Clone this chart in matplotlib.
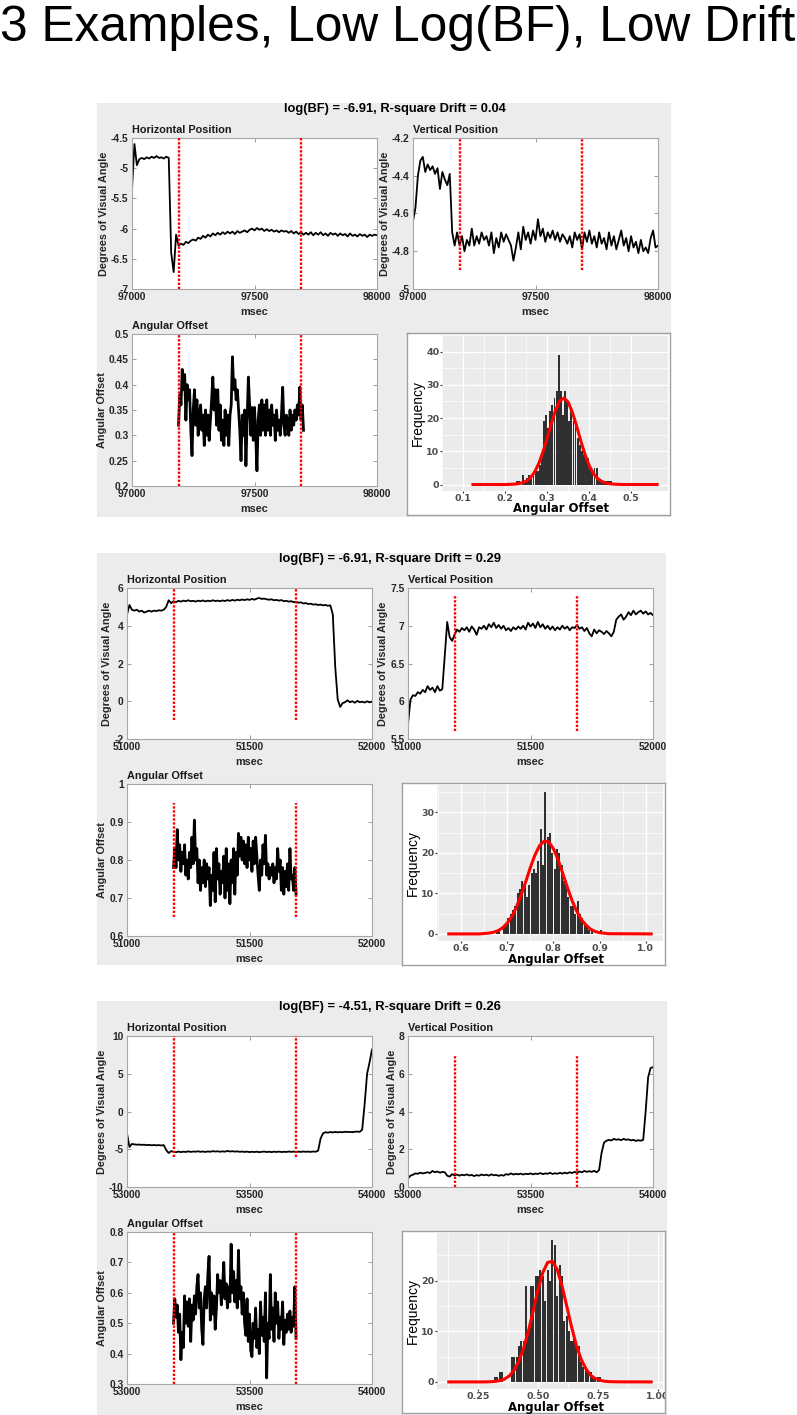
import numpy as np
import matplotlib
matplotlib.use('Agg')
import matplotlib.pyplot as plt
from matplotlib.patches import Rectangle
from matplotlib.ticker import FuncFormatter

W, H = 797, 1415

TITLE = '3 Examples, Low Log(BF), Low Drift'
BLOCK_TITLES = ['log(BF) = -6.91, R-square Drift = 0.04',
                'log(BF) = -6.91, R-square Drift = 0.29',
                'log(BF) = -4.51, R-square Drift = 0.26']

# window start (msec), position traces sampled every 10 ms
T0 = [97000, 51000, 53000]
POS_STEP = 10
# analysis window (red dotted markers); angular offset sampled every 5 ms inside it
MARKS = [[97190, 97690], [51190, 51690], [53190, 53690]]
ANG_STEP = 5

H_YLIM = [(-7, -4.5), (-2, 6), (-10, 10)]
H_YSTEP = [0.5, 2, 5]
V_YLIM = [(-5, -4.2), (5.5, 7.5), (0, 8)]
V_YSTEP = [0.2, 0.5, 2]
A_YLIM = [(0.2, 0.5), (0.6, 1.0), (0.3, 0.8)]
A_YSTEP = [0.05, 0.1, 0.1]
# vertical extent of the marker lines in each panel
H_MARK_Y = [(-7, -4.5), (-1, 6), (-6, 10)]
V_MARK_Y = [(-4.9, -4.2), (5.6, 7.4), (0, 7)]
A_MARK_Y = [(0.2, 0.5), (0.65, 0.95), (0.3, 0.8)]

# ---- example 1 ----
h1 = [-5.35, -4.6, -4.95, -4.85, -4.83, -4.85, -4.82, -4.84, -4.81, -4.83,
      -4.80, -4.83, -4.82, -4.84, -4.81, -4.83, -6.4, -6.72, -6.1, -6.28,
      -6.25, -6.27, -6.22, -6.24, -6.2, -6.18, -6.2, -6.15, -6.17, -6.12,
      -6.15, -6.1, -6.13, -6.08, -6.11, -6.07, -6.1, -6.06, -6.09, -6.05,
      -6.08, -6.05, -6.09, -6.04, -6.07, -6.05, -6.03, -6.06, -6.02, -6.0,
      -6.03, -5.99, -6.02, -6.0, -6.04, -6.01, -6.04, -6.02, -6.05, -6.03,
      -6.06, -6.03, -6.05, -6.04, -6.07, -6.04, -6.08, -6.05, -6.09, -6.06,
      -6.1, -6.07, -6.1, -6.06, -6.11, -6.07, -6.1, -6.06, -6.11, -6.08,
      -6.12, -6.07, -6.1, -6.08, -6.12, -6.08, -6.11, -6.09, -6.13, -6.08,
      -6.12, -6.1, -6.13, -6.09, -6.12, -6.1, -6.14, -6.1, -6.12, -6.1,
      -6.11]
v1 = [-4.64, -4.57, -4.40, -4.32, -4.30, -4.38, -4.34, -4.37, -4.35, -4.39,
      -4.36, -4.47, -4.38, -4.42, -4.45, -4.39, -4.70, -4.77, -4.70, -4.77,
      -4.72, -4.80, -4.74, -4.77, -4.68, -4.77, -4.72, -4.76, -4.70, -4.74,
      -4.72, -4.77, -4.70, -4.81, -4.73, -4.78, -4.70, -4.75, -4.71, -4.74,
      -4.77, -4.85, -4.78, -4.70, -4.79, -4.67, -4.74, -4.70, -4.76, -4.69,
      -4.74, -4.63, -4.72, -4.68, -4.75, -4.70, -4.73, -4.69, -4.74, -4.70,
      -4.75, -4.71, -4.73, -4.76, -4.72, -4.78, -4.70, -4.74, -4.71, -4.79,
      -4.70, -4.75, -4.69, -4.76, -4.72, -4.78, -4.70, -4.76, -4.73, -4.79,
      -4.70, -4.77, -4.72, -4.79, -4.74, -4.69, -4.77, -4.73, -4.80, -4.72,
      -4.78, -4.75, -4.81, -4.74, -4.80, -4.78, -4.81, -4.73, -4.69, -4.78,
      -4.77]
a1 = [0.32, 0.38, 0.36, 0.43, 0.39, 0.42, 0.33, 0.40, 0.37, 0.39,
      0.31, 0.26, 0.35, 0.39, 0.32, 0.37, 0.30, 0.34, 0.36, 0.31,
      0.34, 0.28, 0.35, 0.30, 0.34, 0.29, 0.33, 0.37, 0.415, 0.35,
      0.39, 0.32, 0.39, 0.31, 0.36, 0.29, 0.33, 0.28, 0.35, 0.30,
      0.34, 0.28, 0.34, 0.36, 0.455, 0.39, 0.41, 0.37, 0.39, 0.35,
      0.31, 0.25, 0.34, 0.30, 0.35, 0.24, 0.33, 0.415, 0.36, 0.30,
      0.355, 0.29, 0.355, 0.30, 0.23, 0.33, 0.36, 0.30, 0.37, 0.31,
      0.36, 0.30, 0.37, 0.31, 0.35, 0.30, 0.36, 0.32, 0.34, 0.29,
      0.35, 0.31, 0.33, 0.30, 0.34, 0.395, 0.32, 0.30, 0.34, 0.33,
      0.30, 0.35, 0.31, 0.34, 0.32, 0.35, 0.33, 0.36, 0.34, 0.395,
      0.33, 0.36, 0.31]
hist1_start, hist1_bin = 0.225, 0.005
hist1 = [1, 1, 0, 3, 1, 2, 3, 2, 4, 5,
         4, 6, 9, 19, 21, 17, 22, 24, 26, 28,
         39, 28, 21, 28, 25, 19, 23, 19, 20, 14,
         12, 10, 9, 8, 8, 5, 4, 5, 5, 1,
         1, 1, 1, 1, 1, 1]
fit1_x = [0.12, 0.2, 0.22, 0.23, 0.24, 0.25, 0.26, 0.27, 0.28, 0.29, 0.30, 0.31, 0.32,
          0.33, 0.34, 0.35, 0.36, 0.37, 0.38, 0.39, 0.40, 0.41, 0.42, 0.43, 0.44,
          0.45, 0.46, 0.48, 0.565]
fit1_y = [0, 0, 0.1, 0.2, 0.5, 1.0, 2.0, 3.7, 6.3, 9.8, 14.0, 18.4, 22.4,
          25.2, 26.0, 24.8, 21.7, 17.6, 13.1, 9.0, 5.7, 3.3, 1.8, 0.9, 0.4,
          0.2, 0.1, 0, 0]

# ---- example 2 ----
h2 = [4.6, 5.1, 4.85, 4.8, 4.85, 4.75, 4.8, 4.7, 4.75, 4.8,
      4.75, 4.8, 4.78, 4.82, 4.8, 4.85, 5.0, 5.35, 5.2, 5.3,
      5.25, 5.32, 5.28, 5.33, 5.3, 5.35, 5.3, 5.32, 5.28, 5.33,
      5.3, 5.34, 5.29, 5.33, 5.3, 5.35, 5.31, 5.33, 5.3, 5.34,
      5.31, 5.36, 5.32, 5.37, 5.33, 5.38, 5.35, 5.39, 5.36, 5.4,
      5.37, 5.42, 5.38, 5.44, 5.47, 5.42, 5.44, 5.4, 5.38, 5.4,
      5.35, 5.37, 5.33, 5.36, 5.3, 5.32, 5.28, 5.3, 5.25, 5.27,
      5.22, 5.24, 5.18, 5.2, 5.15, 5.17, 5.12, 5.14, 5.1, 5.12,
      5.08, 5.1, 5.06, 5.08, 4.6, 1.8, 0.1, -0.3, -0.1, -0.05,
      0.05, -0.05, 0.0, -0.08, 0.02, -0.05, -0.02, -0.07, 0.0, -0.06,
      -0.02]
v2 = [5.7, 6.02, 6.08, 6.07, 6.12, 6.1, 6.15, 6.12, 6.2, 6.15,
      6.18, 6.12, 6.2, 6.14, 6.16, 6.6, 7.05, 6.85, 6.8, 6.88,
      6.95, 6.92, 6.97, 6.94, 6.98, 6.92, 6.99, 6.95, 6.88, 6.98,
      6.96, 7.0, 6.95, 7.02, 6.98, 7.04, 6.97, 7.01, 6.96, 7.0,
      6.94, 6.97, 6.93, 6.98, 6.95, 6.99, 6.96, 7.0, 6.95, 7.04,
      6.99, 7.03, 6.97, 7.05, 6.98, 7.02, 6.96, 7.0, 6.95, 6.99,
      6.94, 6.98, 6.95, 7.0, 6.96, 6.99, 6.94, 6.98, 6.97, 7.01,
      6.96, 6.98, 6.93, 6.97, 6.9, 6.86, 6.95, 6.9, 6.94, 6.92,
      6.89, 6.93, 6.9, 6.86, 6.92, 7.08, 7.12, 7.15, 7.08, 7.12,
      7.18, 7.14, 7.2, 7.15, 7.18, 7.2, 7.16, 7.19, 7.15, 7.17,
      7.14]
a2 = [0.78, 0.83, 0.78, 0.88, 0.80, 0.84, 0.77, 0.82, 0.79, 0.84,
      0.76, 0.80, 0.75, 0.82, 0.78, 0.86, 0.79, 0.905, 0.80, 0.83,
      0.74, 0.80, 0.72, 0.78, 0.74, 0.80, 0.73, 0.79, 0.75, 0.78,
      0.68, 0.76, 0.72, 0.82, 0.69, 0.83, 0.75, 0.79, 0.71, 0.77,
      0.74, 0.81, 0.70, 0.83, 0.72, 0.79, 0.685, 0.80, 0.74, 0.83,
      0.71, 0.82, 0.76, 0.87, 0.81, 0.86, 0.80, 0.85, 0.79, 0.84,
      0.78, 0.86, 0.80, 0.83, 0.77, 0.85, 0.79, 0.86, 0.81, 0.76,
      0.72, 0.80, 0.76, 0.84, 0.79, 0.865, 0.76, 0.79, 0.75, 0.78,
      0.76, 0.79, 0.74, 0.78, 0.75, 0.83, 0.77, 0.80, 0.72, 0.78,
      0.71, 0.77, 0.73, 0.79, 0.72, 0.83, 0.75, 0.76, 0.72, 0.78,
      0.71]
hist2_start, hist2_bin = 0.675, 0.005
hist2 = [1, 1, 0, 2, 2, 4, 5, 6, 7, 10,
         11, 13, 13, 9, 12, 15, 16, 15, 18, 26,
         17, 35, 24, 25, 20, 16, 21, 20, 17, 13,
         12, 9, 7, 7, 5, 8, 5, 4, 3, 2,
         1, 1, 0, 0, 0, 1]
fit2_x = [0.57, 0.64, 0.66, 0.67, 0.68, 0.69, 0.70, 0.71, 0.72, 0.73, 0.74, 0.75, 0.76,
          0.77, 0.78, 0.79, 0.80, 0.81, 0.82, 0.83, 0.84, 0.85, 0.86, 0.87, 0.88,
          0.89, 0.90, 0.92, 1.015]
fit2_y = [0, 0, 0.2, 0.4, 0.8, 1.5, 2.7, 4.3, 6.7, 9.6, 12.9, 16.4, 19.5,
          21.8, 22.9, 22.7, 21.0, 18.3, 15.0, 11.5, 8.3, 5.7, 3.6, 2.2, 1.2,
          0.6, 0.3, 0.05, 0]

# ---- example 3 ----
h3 = [-2.9, -4.7, -4.3, -4.35, -4.4, -4.38, -4.42, -4.4, -4.45, -4.42,
      -4.47, -4.44, -4.48, -4.45, -4.5, -4.45, -5.1, -5.5, -5.25, -5.35,
      -5.4, -5.3, -5.38, -5.32, -5.36, -5.28, -5.35, -5.3, -5.33, -5.27,
      -5.34, -5.3, -5.36, -5.29, -5.33, -5.25, -5.3, -5.27, -5.33, -5.28,
      -5.32, -5.22, -5.3, -5.26, -5.31, -5.28, -5.34, -5.3, -5.36, -5.31,
      -5.38, -5.33, -5.37, -5.32, -5.39, -5.34, -5.3, -5.37, -5.33, -5.38,
      -5.32, -5.36, -5.31, -5.37, -5.33, -5.36, -5.3, -5.35, -5.31, -5.36,
      -5.32, -5.35, -5.3, -5.34, -5.31, -5.35, -5.3, -5.33, -5.2, -3.6,
      -2.9, -2.75, -2.8, -2.72, -2.78, -2.7, -2.76, -2.72, -2.75, -2.68,
      -2.72, -2.7, -2.74, -2.68, -2.66, -2.7, -2.4, 1.0, 5.0, 6.5,
      8.2]
v3 = [0.45, 0.6, 0.65, 0.72, 0.7, 0.76, 0.72, 0.75, 0.78, 0.74,
      0.85, 0.78, 0.82, 0.76, 0.8, 0.78, 0.6, 0.55, 0.68, 0.62,
      0.66, 0.6, 0.65, 0.62, 0.67, 0.61, 0.64, 0.58, 0.63, 0.6,
      0.66, 0.62, 0.65, 0.6, 0.67, 0.62, 0.64, 0.59, 0.63, 0.6,
      0.68, 0.65, 0.72, 0.66, 0.7, 0.67, 0.71, 0.66, 0.7, 0.68,
      0.72, 0.67, 0.71, 0.69, 0.74, 0.68, 0.72, 0.7, 0.75, 0.69,
      0.73, 0.7, 0.75, 0.71, 0.76, 0.72, 0.78, 0.74, 0.8, 0.76,
      0.82, 0.78, 0.85, 0.8, 0.84, 0.8, 0.86, 0.78, 0.9, 1.8,
      2.35, 2.45, 2.5, 2.46, 2.55, 2.5, 2.53, 2.48, 2.55, 2.5,
      2.52, 2.47, 2.5, 2.44, 2.48, 2.45, 2.5, 4.0, 5.8, 6.3,
      6.35]
a3 = [0.50, 0.58, 0.52, 0.56, 0.47, 0.53, 0.38, 0.47, 0.42, 0.59,
      0.50, 0.57, 0.49, 0.58, 0.44, 0.56, 0.51, 0.59, 0.53, 0.62,
      0.66, 0.55, 0.60, 0.48, 0.43, 0.58, 0.62, 0.55, 0.66, 0.72,
      0.51, 0.60, 0.53, 0.59, 0.48, 0.55, 0.66, 0.60, 0.64, 0.56,
      0.62, 0.70, 0.58, 0.63, 0.55, 0.62, 0.57, 0.76, 0.60, 0.67,
      0.57, 0.64, 0.55, 0.74, 0.58, 0.62, 0.53, 0.60, 0.50, 0.46,
      0.58, 0.44, 0.53, 0.41, 0.39, 0.50, 0.45, 0.55, 0.42, 0.48,
      0.40, 0.57, 0.46, 0.52, 0.44, 0.60, 0.32, 0.50, 0.45, 0.66,
      0.48, 0.55, 0.44, 0.60, 0.50, 0.57, 0.45, 0.52, 0.48, 0.57,
      0.43, 0.51, 0.47, 0.53, 0.48, 0.54, 0.47, 0.52, 0.49, 0.62,
      0.45]
hist3_start, hist3_bin = 0.315, 0.01
hist3 = [1, 1, 2, 2, 0, 0, 0, 5, 5, 5,
         7, 8, 8, 19, 10, 19, 19, 21, 21, 22,
         21, 16, 22, 20, 28, 27, 17, 23, 21, 12,
         13, 10, 8, 9, 7, 7, 4, 3, 3, 2,
         2, 1, 1, 1, 1]
fit3_x = [0.12, 0.28, 0.30, 0.32, 0.34, 0.36, 0.38, 0.40, 0.42, 0.44, 0.46, 0.48, 0.50,
          0.52, 0.54, 0.56, 0.58, 0.60, 0.62, 0.64, 0.66, 0.68, 0.70, 0.72, 0.74,
          0.76, 0.78, 0.80, 0.84, 0.98]
fit3_y = [0, 0, 0.04, 0.1, 0.25, 0.56, 1.2, 2.3, 4.1, 6.7, 10.1, 14.1, 18.2,
          21.6, 23.6, 23.8, 22.2, 19.0, 15.0, 10.9, 7.3, 4.5, 2.6, 1.3, 0.65,
          0.3, 0.12, 0.05, 0.01, 0]

HX_TICKS = [[0.1, 0.2, 0.3, 0.4, 0.5], [0.6, 0.7, 0.8, 0.9, 1.0], [0.25, 0.5, 0.75, 1.0]]
HX_FMT = ['%.1f', '%.1f', '%.2f']
HY_TICKS = [[0, 10, 20, 30, 40], [0, 10, 20, 30], [0, 10, 20]]

# ---- layout (pixels) ----
BLOCK_TOP = [103, 553, 1001]
BLOCK_BOTTOM = [517, 965, 1415]
BLOCK_RIGHT = [671, 666, 667]
BLOCK_DX = [5, 0, 0]
GRAY = '#ececec'

plt.rcParams['font.family'] = ['Liberation Sans', 'DejaVu Sans']
plt.rcParams['font.weight'] = 'bold'
plt.rcParams['axes.labelweight'] = 'bold'


def px_axes(fig, x, y, w, h):
    return fig.add_axes([x / W, 1 - (y + h) / H, w / W, h / H])


def matlab_axes(fig, x, y, w, h, xlim, ylim, ystep, title, ylabel):
    ax = px_axes(fig, x, y, w, h)
    ax.set_facecolor('white')
    ax.set_xlim(xlim)
    ax.set_ylim(ylim)
    ax.set_xticks([xlim[0], (xlim[0] + xlim[1]) / 2, xlim[1]])
    ax.set_yticks(np.round(np.arange(ylim[0], ylim[1] + ystep / 2, ystep), 4))
    ax.xaxis.set_major_formatter(FuncFormatter(lambda v, p: '%d' % v))
    ax.yaxis.set_major_formatter(FuncFormatter(lambda v, p: '%g' % v))
    ax.tick_params(direction='in', length=3, width=0.6, color='#8c8c8c',
                   top=True, right=True, labelsize=7.4, labelcolor='#262626', pad=2.5)
    for s in ax.spines.values():
        s.set_color('#a6a6a6')
        s.set_linewidth(0.8)
    ax.set_xlabel('msec', fontsize=7.8, color='#262626', labelpad=3.5)
    ax.set_ylabel(ylabel, fontsize=7.8, color='#262626', labelpad=1.5)
    ax.annotate(title, (0, 1), xycoords='axes fraction', xytext=(0, 3),
                textcoords='offset pixels', ha='left', va='bottom',
                fontsize=7.8, color='#1a1a1a')
    return ax


def draw_example(fig, k, hv, vv, av, hstart, hbin, counts, fx, fy):
    top = BLOCK_TOP[k]
    dx = BLOCK_DX[k]
    fig.add_artist(Rectangle((97 / W, 1 - BLOCK_BOTTOM[k] / H), (BLOCK_RIGHT[k] - 97) / W,
                             (BLOCK_BOTTOM[k] - top) / H, transform=fig.transFigure,
                             facecolor=GRAY, edgecolor='none', zorder=-1))
    fig.text((390 + dx) / W, 1 - (top + 6) / H, BLOCK_TITLES[k], ha='center', va='center',
             fontsize=9.3, color='black')

    xlim = (T0[k], T0[k] + 1000)
    t_pos = T0[k] + POS_STEP * np.arange(len(hv))
    t_ang = MARKS[k][0] + ANG_STEP * np.arange(len(av))

    ax = matlab_axes(fig, 127 + dx, top + 35, 245, 151, xlim, H_YLIM[k], H_YSTEP[k],
                     'Horizontal Position', 'Degrees of Visual Angle')
    ax.plot(t_pos, hv, color='black', lw=1.3)
    ax.vlines(MARKS[k], *H_MARK_Y[k], colors='red', linestyles=(0, (1, 0.7)), lw=1.7, zorder=3)

    ax = matlab_axes(fig, 408 + dx, top + 35, 245, 151, xlim, V_YLIM[k], V_YSTEP[k],
                     'Vertical Position', 'Degrees of Visual Angle')
    ax.plot(t_pos, vv, color='black', lw=1.3)
    ax.vlines(MARKS[k], *V_MARK_Y[k], colors='red', linestyles=(0, (1, 0.7)), lw=1.7, zorder=3)

    ax = matlab_axes(fig, 127 + dx, top + 231, 245, 152, xlim, A_YLIM[k], A_YSTEP[k],
                     'Angular Offset', 'Angular Offset')
    ax.plot(t_ang, av, color='black', lw=2.0)
    ax.vlines(MARKS[k], *A_MARK_Y[k], colors='red', linestyles=(0, (1, 0.7)), lw=1.7, zorder=3)

    # histogram panel (ggplot style image)
    box = px_axes(fig, 402 + dx, top + 230, 263, 182)
    box.set_xticks([])
    box.set_yticks([])
    box.set_facecolor('white')
    for s in box.spines.values():
        s.set_color('#a0a0a0')
        s.set_linewidth(1.0)

    hx = px_axes(fig, 437 + dx, top + 232, 226, 156)
    hx.set_facecolor('#ebebeb')
    for s in hx.spines.values():
        s.set_visible(False)
    centers = hstart + hbin * (np.arange(len(counts)) + 0.5)
    hx.bar(centers, counts, width=hbin * 0.88, color='#303030', zorder=2)
    hx.plot(fx, fy, color='#ff0000', lw=2.2, zorder=3, solid_capstyle='butt')
    span = fx[-1] - fx[0]
    hx.set_xlim(fx[0] - 0.05 * span, fx[-1] + 0.05 * span)
    hx.set_ylim(-0.05 * max(counts), 1.05 * max(counts))
    xt = HX_TICKS[k]
    yt = HY_TICKS[k]
    hx.set_xticks(xt)
    hx.set_xticklabels([HX_FMT[k] % v for v in xt])
    hx.set_yticks(yt)
    hx.set_xticks([v - (xt[1] - xt[0]) / 2 for v in xt], minor=True)
    hx.set_yticks([v + 5 for v in yt], minor=True)
    hx.grid(True, which='major', color='white', lw=1.0, zorder=0)
    hx.grid(True, which='minor', color='white', lw=0.5, zorder=0)
    hx.set_axisbelow(True)
    hx.tick_params(which='major', direction='out', length=1.5, width=0.8, color='#333333',
                   labelsize=6.8, labelcolor='#4d4d4d', pad=0.4, labelfontfamily='DejaVu Sans')
    hx.tick_params(which='minor', length=0)
    for lbl in hx.get_xticklabels():
        lbl.set_clip_path(box.patch)
    fig.text((556 + dx) / W, 1 - (top + 406) / H, 'Angular Offset', ha='center', va='center',
             fontsize=8.4, family='DejaVu Sans', color='black')
    fig.text((413 + dx) / W, 1 - (top + 310) / H, 'Frequency', ha='center', va='center',
             rotation=90, fontsize=10, fontweight='normal',
             family=['Liberation Sans Narrow', 'Liberation Sans'], color='black')


fig = plt.figure(figsize=(W / 100, H / 100), dpi=100)
fig.patch.set_facecolor('white')
fig.text(0, 1 - 41 / H, TITLE, ha='left', va='baseline', fontsize=35.7,
         fontweight='normal', color='black')

draw_example(fig, 0, h1, v1, a1, hist1_start, hist1_bin, hist1, fit1_x, fit1_y)
draw_example(fig, 1, h2, v2, a2, hist2_start, hist2_bin, hist2, fit2_x, fit2_y)
draw_example(fig, 2, h3, v3, a3, hist3_start, hist3_bin, hist3, fit3_x, fit3_y)

fig.savefig('out.png', dpi=100)
